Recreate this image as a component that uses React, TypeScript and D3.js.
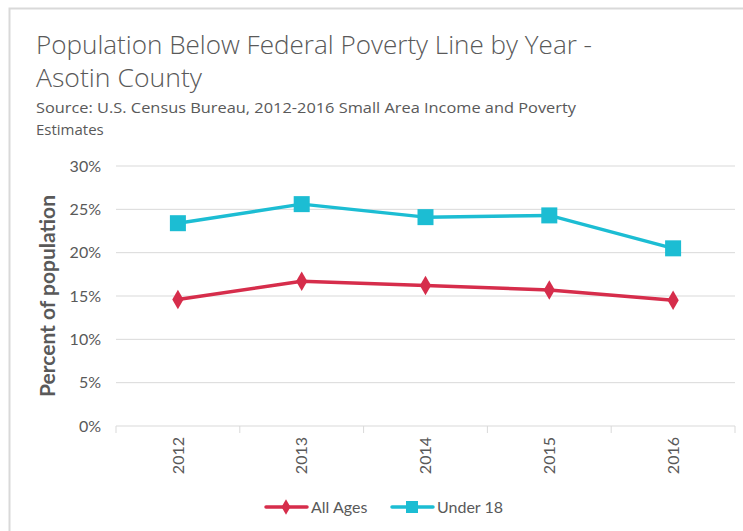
import React from "react";
import * as d3 from "d3";

const years = ["2012", "2013", "2014", "2015", "2016"];
const allAges = [14.6, 16.7, 16.2, 15.7, 14.5];
const under18 = [23.4, 25.6, 24.1, 24.3, 20.5];
const yTicks = [0, 5, 10, 15, 20, 25, 30];
const seriesNames = ["All Ages", "Under 18"];

const W = 743;
const H = 531;
const plot = { left: 116, right: 735, top: 166, bottom: 426 };
const RED = "#d62d4b";
const CYAN = "#1cbdd3";
const GRAY = "#595959";
const FONT = "Lato, 'Open Sans', sans-serif";
const TITLE_FONT = "'Open Sans', Lato, sans-serif";

export default function App() {
  const x = d3.scaleBand().domain(years).range([plot.left, plot.right]).padding(0);
  const y = d3.scaleLinear().domain([0, 30]).range([plot.bottom, plot.top]);
  const cx = (yr: string) => (x(yr) as number) + x.bandwidth() / 2;
  const line = d3
    .line<number>()
    .x((_, i) => cx(years[i]))
    .y((d) => y(d));
  const diamond = d3.symbol(d3.symbolDiamond, 110)() as string;

  return (
    <svg
      width={W}
      height={H}
      style={{ position: "absolute", left: 0, top: 0, background: "#fff" }}
      fontFamily={FONT}
    >
      <rect x={9.5} y={8.5} width={W + 20} height={H + 20} fill="#fff" stroke="#d9d9d9" strokeWidth={2} />
      <text x={36} y={54} fontSize={25} fill={GRAY} fontWeight={300} fontFamily={TITLE_FONT} textLength={556} lengthAdjust="spacingAndGlyphs">
        Population Below Federal Poverty Line by Year -
      </text>
      <text x={36} y={87} fontSize={25} fill={GRAY} fontWeight={300} fontFamily={TITLE_FONT} textLength={166} lengthAdjust="spacingAndGlyphs">
        Asotin County
      </text>
      <text x={36} y={113} fontSize={15} fill={GRAY} fontFamily={TITLE_FONT} textLength={540} lengthAdjust="spacingAndGlyphs">
        Source: U.S. Census Bureau, 2012-2016 Small Area Income and Poverty
      </text>
      <text x={36} y={135} fontSize={15} fill={GRAY} fontFamily={TITLE_FONT}>
        Estimates
      </text>

      {yTicks.map((t) => (
        <g key={t}>
          <line
            x1={plot.left}
            x2={plot.right}
            y1={y(t)}
            y2={y(t)}
            stroke="#d9d9d9"
            strokeWidth={1}
          />
          <text
            x={101}
            y={y(t)}
            dy="0.35em"
            textAnchor="end"
            fontSize={16}
            fill={GRAY}
          >
            {t}%
          </text>
        </g>
      ))}
      {[...years.map((yr) => x(yr) as number), plot.right].map((px, i) => (
        <line key={i} x1={px} x2={px} y1={plot.bottom} y2={plot.bottom + 7} stroke="#d9d9d9" />
      ))}
      {years.map((yr) => (
        <text
          key={yr}
          transform={`translate(${cx(yr)},${plot.bottom + 11}) rotate(-90)`}
          textAnchor="end"
          dy="0.35em"
          fontSize={16}
          fill={GRAY}
        >
          {yr}
        </text>
      ))}
      <text
        transform={`translate(55,296) rotate(-90)`}
        textAnchor="middle"
        fontSize={21}
        fontWeight={700}
        fill={GRAY}
      >
        Percent of population
      </text>

      <path d={line(allAges) as string} fill="none" stroke={RED} strokeWidth={3.5} strokeLinejoin="round" />
      <path d={line(under18) as string} fill="none" stroke={CYAN} strokeWidth={3.5} strokeLinejoin="round" />
      {allAges.map((v, i) => (
        <path key={i} d={diamond} transform={`translate(${cx(years[i])},${y(v)})`} fill={RED} />
      ))}
      {under18.map((v, i) => (
        <rect key={i} x={cx(years[i]) - 8} y={y(v) - 8} width={16} height={16} fill={CYAN} />
      ))}

      <g>
        <line x1={266} x2={307} y1={507} y2={507} stroke={RED} strokeWidth={3.5} strokeLinecap="round" />
        <path d={d3.symbol(d3.symbolDiamond, 70)() as string} transform="translate(286,507)" fill={RED} />
        <text x={311} y={507} dy="0.35em" fontSize={16} fill={GRAY}>
          {seriesNames[0]}
        </text>
        <line x1={392} x2={433} y1={507} y2={507} stroke={CYAN} strokeWidth={3.5} strokeLinecap="round" />
        <rect x={406} y={501} width={12} height={12} fill={CYAN} />
        <text x={437} y={507} dy="0.35em" fontSize={16} fill={GRAY}>
          {seriesNames[1]}
        </text>
      </g>
    </svg>
  );
}
